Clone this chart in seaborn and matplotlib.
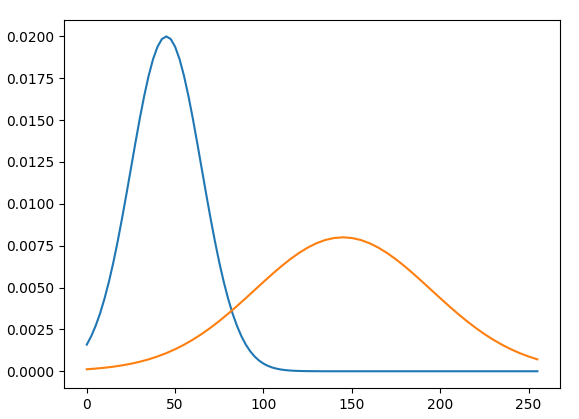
import numpy as np
import pandas as pd
import matplotlib
matplotlib.use("Agg")
import matplotlib.pyplot as plt
import seaborn as sns

# blue curve (finer sampling around the peak)
blue_x = list(np.arange(0, 120, 2.5)) + list(range(120, 256, 5))
blue_y = [0.00159, 0.002092, 0.00271, 0.003449, 0.00433, 0.005341, 0.00649, 0.007771,
          0.00916, 0.010622, 0.01213, 0.013639, 0.01510, 0.016452, 0.01765, 0.018642,
          0.01938, 0.019844, 0.02000, 0.019844, 0.01938, 0.018642, 0.01765, 0.016452,
          0.01510, 0.013639, 0.01213, 0.010622, 0.00916, 0.007771, 0.00649, 0.005341,
          0.00433, 0.003449, 0.00271, 0.002092, 0.00159, 0.001192, 0.000879, 0.000638,
          0.000456, 0.000321, 0.000222, 0.000152, 0.000102, 0.0000672, 0.0000438,
          0.000028,
          0.0000177, 0.0000067, 0.0000024] + [0.0] * 25

# orange curve, every 5 units of x
orange_x = list(range(0, 256, 5))
orange_y = [0.000119, 0.000159, 0.000209, 0.000272, 0.000352, 0.000449, 0.000568,
            0.000711, 0.000882, 0.001083, 0.001316, 0.001583, 0.001886, 0.002224,
            0.002598, 0.003003, 0.003437, 0.003894, 0.004369, 0.004852, 0.005336,
            0.005809, 0.006262, 0.006683, 0.00706, 0.007385, 0.007648, 0.007842,
            0.00796, 0.00800, 0.00796, 0.007842, 0.007648, 0.007385, 0.00706,
            0.006683, 0.006262, 0.005809, 0.005336, 0.004852, 0.004369, 0.003894,
            0.003437, 0.003003, 0.002598, 0.002224, 0.001886, 0.001583, 0.001316,
            0.001083, 0.000882, 0.000711]

df_blue = pd.DataFrame({"x": blue_x, "y": blue_y})
df_orange = pd.DataFrame({"x": orange_x, "y": orange_y})

fig, ax = plt.subplots(figsize=(5.79, 4.19), dpi=100)
sns.lineplot(data=df_blue, x="x", y="y", ax=ax, color="#1f77b4")
sns.lineplot(data=df_orange, x="x", y="y", ax=ax, color="#ff7f0e")
ax.set_xlabel("")
ax.set_ylabel("")
fig.subplots_adjust(left=0.111, right=0.967, top=0.953, bottom=0.074)
plt.savefig("out.png", dpi=100)
